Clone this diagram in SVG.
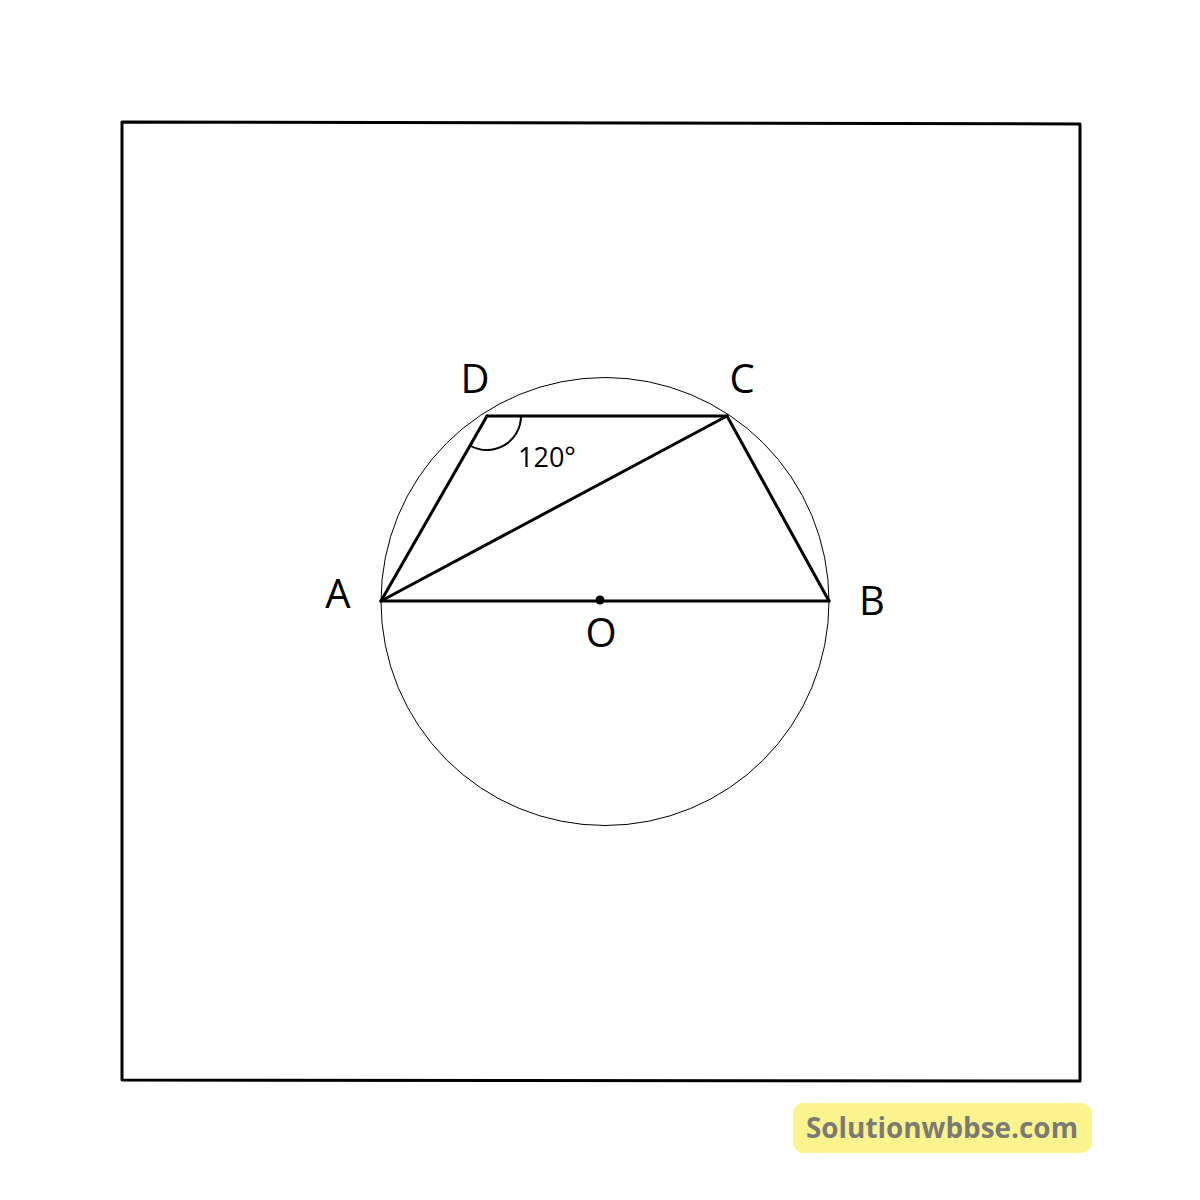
<svg xmlns="http://www.w3.org/2000/svg" width="1200" height="1200" viewBox="0 0 1200 1200">
<style>
.thick{fill:none;stroke:#000;stroke-width:3;stroke-linecap:round;stroke-linejoin:round}
.thin{fill:none;stroke:#000;stroke-width:1}
.lbl{font-family:"Open Sans","Liberation Sans",sans-serif;font-size:40px;fill:#000;text-anchor:middle}
</style>
<rect width="1200" height="1200" fill="#fff"/>
<g id="frame"><polygon class="thick" points="122,122 1080,124 1080,1081 122,1080"/></g>
<g id="circle"><circle class="thin" cx="605" cy="601.5" r="224"/></g>
<g id="connectors">
<line class="thick" x1="381" y1="601" x2="829" y2="601"/>
<line class="thick" x1="381" y1="601" x2="487" y2="416"/>
<line class="thick" x1="487" y1="416" x2="727" y2="416"/>
<line class="thick" x1="727" y1="416" x2="829" y2="601"/>
<line class="thick" x1="381" y1="601" x2="727" y2="416"/>
<path class="thick" d="M521,416 A34,34 0 0 1 470,445.5" style="stroke-width:2"/>
</g>
<g id="O"><circle cx="600" cy="600" r="4.5" fill="#000"/><text class="lbl" x="601" y="647">O</text></g>
<g id="A"><text class="lbl" x="338" y="608">A</text></g>
<g id="B"><text class="lbl" x="872" y="615">B</text></g>
<g id="C"><text class="lbl" x="742" y="393">C</text></g>
<g id="D"><text class="lbl" x="475" y="393">D</text></g>
<g id="angle"><text x="547" y="467" style="font-family:'Open Sans','Liberation Sans',sans-serif;font-size:27px;text-anchor:middle">120°</text></g>
<g id="watermark">
<rect x="793" y="1103" width="299" height="50" rx="11" fill="#fbf48e"/>
<text x="942" y="1138" textLength="272" lengthAdjust="spacingAndGlyphs" style="font-family:'Open Sans','Liberation Sans',sans-serif;font-weight:bold;font-size:28px;fill:#7b7b74;text-anchor:middle">Solutionwbbse.com</text>
</g>
</svg>
